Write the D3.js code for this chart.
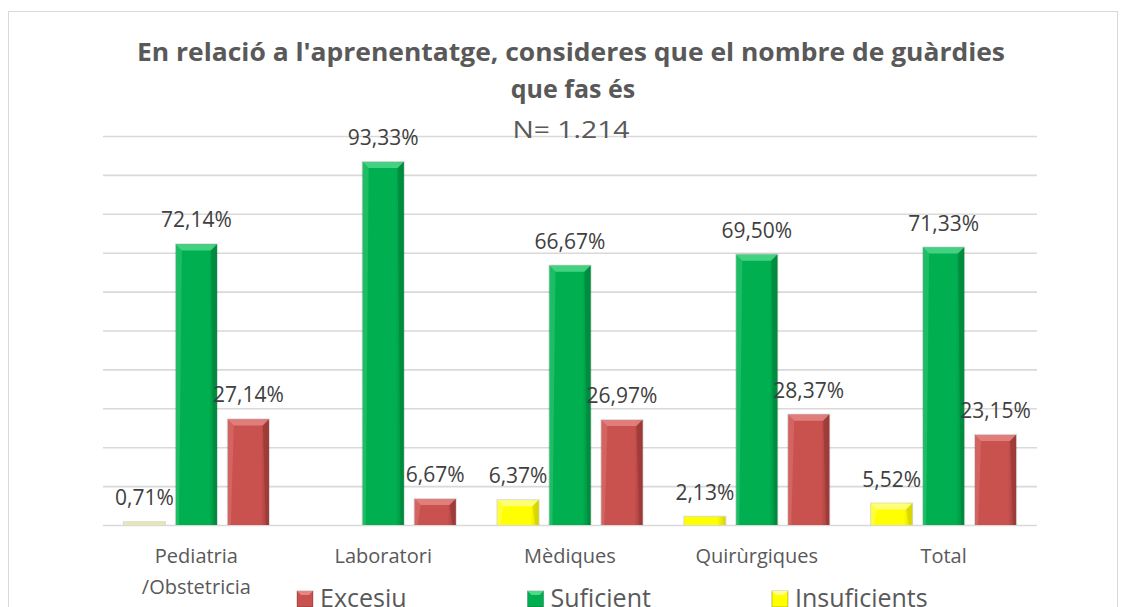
<!DOCTYPE html>
<html>
<head>
<meta charset="utf-8">
<script src="https://cdn.jsdelivr.net/npm/d3@7"></script>
<style>
  body { margin: 0; background: #fff; }
  text { font-family: "Open Sans", sans-serif; }
</style>
</head>
<body>
<svg id="chart" width="1123" height="607"></svg>
<script>
// data
var categories = ["Pediatria\n/Obstetricia", "Laboratori", "Mèdiques", "Quirùrgiques", "Total"];
var series = ["Insuficients", "Suficient", "Excesiu"];
var insuficients = [0.71, 0, 6.37, 2.13, 5.52];
var suficient = [72.14, 93.33, 66.67, 69.50, 71.33];
var excesiu = [27.14, 6.67, 26.97, 28.37, 23.15];
var legendOrder = ["Excesiu", "Suficient", "Insuficients"];
var yTicks = [0, 10, 20, 30, 40, 50, 60, 70, 80, 90, 100];
var titleLines = ["En relació a l'aprenentatge, consideres que el nombre de guàrdies", "que fas és"];
var subtitle = "N= 1.214";

var values = { "Insuficients": insuficients, "Suficient": suficient, "Excesiu": excesiu };
var colors = {
  "Insuficients": { base: "#ffff00", light: "#ffff8c", dark: "#d6d600" },
  "Suficient":    { base: "#00b050", light: "#4fd88a", dark: "#008a3e" },
  "Excesiu":      { base: "#c9524f", light: "#e58684", dark: "#9c3a38" }
};

var chart = {};
chart.left = 103;
chart.right = 1037;
chart.top = 136;
chart.bottom = 525;

var svg = d3.select("#chart");

// outer frame
svg.append("rect")
  .attr("x", 8.5).attr("y", 11.5)
  .attr("width", 1109).attr("height", 620)
  .attr("fill", "#fff")
  .attr("stroke", "#d9d9d9")
  .attr("stroke-width", 1);

var x0 = d3.scaleBand()
  .domain(categories)
  .range([chart.left, chart.right])
  .paddingInner(0.224)
  .paddingOuter(0.112);

var x1 = d3.scaleBand()
  .domain(series)
  .range([0, x0.bandwidth()])
  .paddingInner(0.21);

var y = d3.scaleLinear()
  .domain([0, 100])
  .range([chart.bottom, chart.top]);

// gridlines
var grid = svg.append("g")
  .attr("transform", "translate(" + chart.left + ",0)")
  .call(d3.axisLeft(y).tickValues(yTicks).tickSize(-(chart.right - chart.left)).tickFormat(""));
grid.select(".domain").remove();
grid.selectAll("line").attr("stroke", "#d9d9d9").attr("stroke-width", 1.6);

// gradients
var defs = svg.append("defs");
series.forEach(function(s, i){
  var g = defs.append("linearGradient")
    .attr("id", "grad" + i)
    .attr("x1", "0").attr("x2", "1").attr("y1", "0").attr("y2", "0");
  g.append("stop").attr("offset", "0%").attr("stop-color", colors[s].base);
  g.append("stop").attr("offset", "80%").attr("stop-color", colors[s].base);
  g.append("stop").attr("offset", "100%").attr("stop-color", colors[s].dark);
});

// bars
var groups = svg.append("g").selectAll("g")
  .data(categories)
  .join("g")
  .attr("transform", function(d){ return "translate(" + x0(d) + ",0)"; });

var bars = groups.selectAll("g.bar")
  .data(function(d, ci){
    return series.map(function(s){ return { cat: d, series: s, value: values[s][ci] }; });
  })
  .join("g")
  .attr("class", "bar");

bars.each(function(d){
  if (d.value <= 0) return;
  var g = d3.select(this);
  var bx = x1(d.series), bw = x1.bandwidth();
  var by = y(d.value), bh = chart.bottom - by;
  var c = colors[d.series];
  var si = series.indexOf(d.series);

  // soft shadow
  g.append("rect")
    .attr("x", bx - 1).attr("y", by - 1)
    .attr("width", bw + 2).attr("height", bh + 1)
    .attr("fill", "rgba(0,0,0,0.15)");

  if (bh < 4) {
    // very short bar looks almost washed out in the original
    g.append("rect")
      .attr("x", bx).attr("y", by)
      .attr("width", bw).attr("height", bh)
      .attr("fill", "#e8e8b0");
    return;
  }

  g.append("rect")
    .attr("x", bx).attr("y", by)
    .attr("width", bw).attr("height", bh)
    .attr("fill", "url(#grad" + si + ")");

  if (bh > 10) {
    var bev = 6;
    // top bevel
    g.append("polygon")
      .attr("points", [[bx, by], [bx + bw, by], [bx + bw - bev, by + bev], [bx + bev, by + bev]].join(" "))
      .attr("fill", c.light)
      .attr("opacity", 0.85);
    // right bevel
    g.append("polygon")
      .attr("points", [[bx + bw, by], [bx + bw, chart.bottom], [bx + bw - 3, chart.bottom], [bx + bw - bev, by + bev]].join(" "))
      .attr("fill", c.dark)
      .attr("opacity", 0.8);
    // left bevel
    g.append("polygon")
      .attr("points", [[bx, by], [bx + bev, by + bev], [bx + 3, chart.bottom], [bx, chart.bottom]].join(" "))
      .attr("fill", c.light)
      .attr("opacity", 0.35);
  }
});

// data labels
bars.filter(function(d){ return d.value > 0; })
  .append("text")
  .attr("x", function(d){ return x1(d.series) + x1.bandwidth() / 2; })
  .attr("y", function(d){ return y(d.value) - 17; })
  .attr("text-anchor", "middle")
  .attr("font-size", 21)
  .attr("fill", "#404040")
  .text(function(d){ return d.value.toFixed(2).replace(".", ",") + "%"; });

// category labels
var xAxis = svg.append("g");
categories.forEach(function(c){
  var t = xAxis.append("text")
    .attr("x", x0(c) + x0.bandwidth() / 2)
    .attr("y", 563)
    .attr("text-anchor", "middle")
    .attr("font-size", 20)
    .attr("fill", "#595959");
  c.split("\n").forEach(function(line, i){
    t.append("tspan")
      .attr("x", x0(c) + x0.bandwidth() / 2)
      .attr("dy", i === 0 ? 0 : 31)
      .text(line);
  });
});

// title
var title = svg.append("g").attr("fill", "#595959");
title.append("text")
  .attr("x", 571).attr("y", 61)
  .attr("text-anchor", "middle")
  .attr("font-size", 25)
  .attr("font-weight", "bold")
  .attr("textLength", 868)
  .attr("lengthAdjust", "spacingAndGlyphs")
  .text(titleLines[0]);
title.append("text")
  .attr("x", 573).attr("y", 98)
  .attr("text-anchor", "middle")
  .attr("font-size", 25)
  .attr("font-weight", "bold")
  .text(titleLines[1]);
title.append("text")
  .attr("x", 571).attr("y", 138)
  .attr("text-anchor", "middle")
  .attr("font-size", 23)
  .attr("textLength", 117)
  .attr("lengthAdjust", "spacingAndGlyphs")
  .text(subtitle);

// legend
var legend = svg.append("g");
var lx = 297;
legendOrder.forEach(function(s){
  var c = colors[s];
  legend.append("rect")
    .attr("x", lx).attr("y", 591)
    .attr("width", 16).attr("height", 16)
    .attr("fill", c.base)
    .attr("stroke", "rgba(0,0,0,0.25)");
  legend.append("polygon")
    .attr("points", [[lx, 591], [lx + 16, 591], [lx + 12, 595], [lx + 4, 595]].join(" "))
    .attr("fill", c.light);
  var t = legend.append("text")
    .attr("x", lx + 23).attr("y", 607)
    .attr("font-size", 25)
    .attr("fill", "#595959")
    .text(s);
  lx += 23 + t.node().getComputedTextLength() + 121;
});
</script>
</body>
</html>
